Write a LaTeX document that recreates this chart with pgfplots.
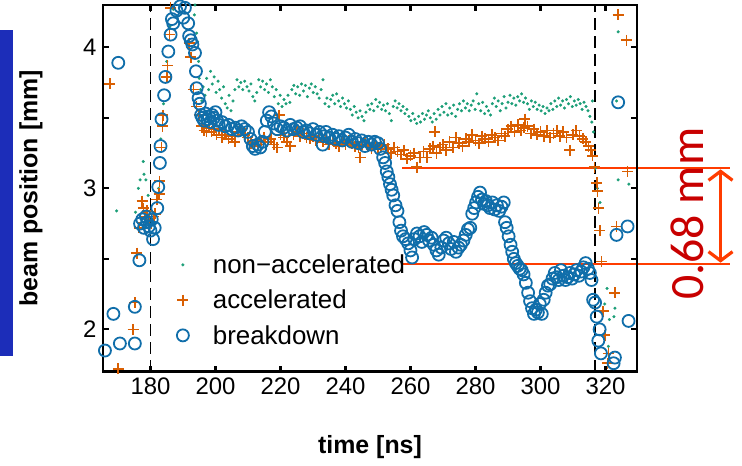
\documentclass[border=0pt]{standalone}
\usepackage{fontspec}
\setmainfont{Liberation Sans}
\newfontfamily\calibri{Carlito}
\usepackage{pgfplots}
\pgfplotsset{compat=1.18}
\usetikzlibrary{arrows.meta}
\definecolor{cgreen}{RGB}{27,158,119}
\definecolor{corange}{RGB}{217,95,2}
\definecolor{cblue}{RGB}{16,110,170}
\definecolor{annred}{RGB}{255,60,0}
\definecolor{txtred}{RGB}{200,0,0}
\definecolor{stripblue}{RGB}{28,45,185}
\pgfplotsset{
  every tick/.style={black, line width=2.2bp},
  every major tick/.style={black, line width=2.2bp},
}
\begin{document}
\begin{tikzpicture}
\useasboundingbox (0,0) rectangle (742bp,466bp);
\fill[stripblue] (0bp,110bp) rectangle (13bp,436bp);
\begin{axis}[
  at={(103bp,94.3bp)}, anchor=south west,
  width=534bp, height=366.7bp, scale only axis,
  xmin=165.4, xmax=329.7, ymin=1.70, ymax=4.30,
  clip=false,
  xtick={180,200,...,320},
  ytick={2,2.5,3,3.5,4}, yticklabels={2,,3,,4},
  tick pos=both, tick align=inside,
  major tick length=6bp,
  tick label style={font=\fontsize{24}{28}\selectfont},
  /pgf/number format/assume math mode=true,
  xticklabel style={yshift=-3bp},
  yticklabel style={xshift=-3bp},
  xlabel={\bfseries time [ns]},
  ylabel={\bfseries beam position [mm]},
  label style={font=\fontsize{25}{29}\selectfont},
  xlabel style={at={(axis description cs:0.5,0)}, anchor=center, yshift=-75bp},
  ylabel style={at={(axis description cs:0,0.5)}, anchor=center, yshift=72bp},
  legend style={draw=none, fill=none, at={(axis description cs:0.138,0.325)}, anchor=north west,
    font=\fontsize{26}{30}\selectfont, inner sep=0pt, row sep=11bp,
    nodes={inner sep=2bp},
    /tikz/every odd column/.append style={column sep=22bp}},
  legend cell align=left,
]
\addplot[cgreen, only marks, mark=*, mark size=1.4bp, line width=0.3bp] table {
169.6 2.84
175.4 2.83
176.3 3.00
176.8 3.06
177.8 3.19
178.0 3.10
178.6 3.06
179.3 2.95
180.5 2.78
181.2 2.82
182.5 3.00
183.2 3.35
184.0 3.60
185.0 3.90
186.0 4.15
187.0 4.27
193.5 4.23
193.7 4.30
194.2 4.10
194.5 4.04
194.8 3.90
195.0 3.78
195.4 3.70
195.8 3.62
196.2 3.72
196.8 3.66
197.3 3.78
197.9 3.70
198.5 3.83
199.0 3.74
199.6 3.79
200.2 3.68
200.8 3.76
201.3 3.70
201.9 3.64
202.5 3.72
203.0 3.60
203.6 3.57
204.2 3.66
204.8 3.55
205.4 3.62
206.0 3.70
206.6 3.77
207.2 3.72
207.8 3.75
208.4 3.70
209.0 3.76
209.7 3.72
210.3 3.69
210.9 3.74
211.5 3.65
212.1 3.62
212.7 3.68
213.3 3.77
213.9 3.72
214.5 3.76
215.1 3.70
215.7 3.74
216.3 3.68
216.9 3.77
217.5 3.72
218.1 3.65
218.7 3.70
219.3 3.60
219.9 3.66
220.5 3.58
221.1 3.63
221.7 3.60
222.3 3.66
222.9 3.61
223.5 3.70
224.1 3.73
224.7 3.67
225.3 3.72
225.9 3.66
226.5 3.74
227.1 3.69
227.7 3.73
228.3 3.65
228.9 3.71
229.5 3.74
230.1 3.68
230.7 3.72
231.3 3.67
231.9 3.64
232.5 3.70
233.1 3.77
233.7 3.60
234.3 3.64
234.9 3.58
235.5 3.63
236.1 3.66
236.7 3.60
237.3 3.67
237.9 3.62
238.5 3.58
239.1 3.64
239.7 3.60
240.3 3.57
240.9 3.62
241.5 3.56
242.1 3.52
242.7 3.58
243.3 3.54
243.9 3.50
244.5 3.55
245.1 3.51
245.7 3.48
246.3 3.54
246.9 3.59
247.5 3.56
248.1 3.60
248.7 3.55
249.3 3.63
249.9 3.58
250.5 3.61
251.1 3.56
251.7 3.59
252.3 3.55
252.9 3.60
253.5 3.53
254.1 3.48
254.7 3.58
255.3 3.62
255.9 3.57
256.5 3.60
257.1 3.55
257.7 3.58
258.3 3.53
258.9 3.56
259.5 3.51
260.1 3.48
260.7 3.53
261.3 3.49
261.9 3.46
262.5 3.51
263.1 3.47
263.7 3.53
264.3 3.49
264.9 3.52
265.5 3.55
266.1 3.50
266.7 3.47
267.3 3.53
267.9 3.49
268.5 3.56
269.1 3.52
269.7 3.58
270.3 3.54
270.9 3.60
271.5 3.52
272.1 3.57
272.7 3.53
273.3 3.59
273.9 3.51
274.5 3.56
275.1 3.60
275.7 3.55
276.3 3.62
276.9 3.57
277.5 3.60
278.1 3.55
278.7 3.59
279.3 3.62
279.9 3.56
280.4 3.67
281.0 3.60
281.6 3.55
282.2 3.61
282.8 3.53
283.4 3.58
284.0 3.55
284.6 3.52
285.2 3.60
285.8 3.64
286.4 3.58
287.0 3.62
287.6 3.55
288.2 3.60
288.8 3.65
289.4 3.57
290.0 3.61
290.6 3.66
291.2 3.60
291.8 3.64
292.4 3.59
293.0 3.65
293.6 3.62
294.2 3.67
294.8 3.61
295.4 3.64
296.0 3.60
296.6 3.56
297.2 3.62
297.8 3.58
298.4 3.61
299.0 3.56
299.6 3.59
300.2 3.55
300.8 3.58
301.4 3.53
302.0 3.57
302.6 3.55
303.2 3.60
303.8 3.56
304.4 3.62
305.0 3.58
305.6 3.64
306.2 3.59
306.8 3.62
307.4 3.57
308.0 3.63
308.6 3.60
309.2 3.65
309.8 3.58
310.4 3.62
311.0 3.59
311.6 3.63
312.2 3.60
312.8 3.56
313.4 3.61
314.0 3.58
314.6 3.55
315.2 3.51
315.8 3.47
316.0 3.62
316.3 3.40
316.8 3.14
317.5 3.00
318.3 2.90
319.3 1.96
319.8 2.18
320.5 2.29
320.9 1.88
321.2 2.07
322.6 2.09
322.9 2.15
323.4 3.62
323.9 3.06
323.9 4.11
327.2 3.03
};
\addlegendentry{non−accelerated}
\addplot[corange, only marks, mark=+, mark size=5.5bp, line width=1.6bp] table {
167.5 3.74
170.1 1.72
174.7 2.00
175.2 2.19
175.8 2.54
176.5 2.72
177.4 2.91
177.8 2.86
178.4 2.80
179.0 2.84
179.6 2.78
180.3 2.75
181.0 2.80
181.4 2.82
182.0 2.92
182.7 2.96
182.8 3.05
183.4 3.29
183.7 3.44
183.8 3.52
185.0 3.79
185.3 3.87
185.8 4.09
186.2 4.28
191.9 4.03
192.4 3.93
193.2 3.70
194.2 3.58
195.0 3.52
195.8 3.44
196.5 3.41
197.2 3.40
198.0 3.43
198.8 3.40
199.5 3.42
200.3 3.38
201.0 3.41
202.0 3.36
203.0 3.38
204.0 3.35
205.0 3.37
206.0 3.33
207.0 3.40
208.0 3.42
209.0 3.38
210.0 3.36
211.0 3.32
212.0 3.30
213.0 3.31
214.0 3.34
215.0 3.36
216.0 3.33
217.0 3.35
218.0 3.31
219.0 3.29
219.6 3.52
220.0 3.38
221.0 3.36
222.0 3.33
223.0 3.30
224.0 3.38
225.0 3.40
226.0 3.37
227.0 3.39
228.0 3.36
229.0 3.35
230.0 3.37
231.0 3.34
232.0 3.36
233.0 3.33
234.0 3.35
235.0 3.31
236.0 3.34
237.0 3.32
238.0 3.30
239.0 3.33
240.0 3.31
241.0 3.34
242.0 3.32
243.0 3.30
244.0 3.29
244.5 3.22
245.0 3.31
246.0 3.33
247.0 3.30
248.0 3.28
249.0 3.31
250.0 3.29
251.0 3.30
252.0 3.31
253.0 3.28
254.0 3.25
255.0 3.29
256.0 3.26
257.0 3.24
258.0 3.27
259.0 3.21
260.0 3.23
261.0 3.25
262.0 3.15
263.0 3.22
264.0 3.26
265.0 3.22
266.0 3.28
267.0 3.30
267.5 3.40
268.0 3.25
269.0 3.29
270.0 3.31
271.0 3.27
272.0 3.33
273.0 3.29
274.0 3.36
275.0 3.32
276.0 3.30
277.0 3.35
278.0 3.33
279.0 3.38
280.0 3.34
281.0 3.32
282.0 3.37
283.0 3.35
284.0 3.33
285.0 3.38
286.0 3.36
287.0 3.34
288.0 3.39
289.0 3.37
290.0 3.42
291.0 3.44
292.0 3.40
293.0 3.45
294.0 3.41
295.0 3.43
295.2 3.49
296.0 3.44
297.0 3.39
298.0 3.42
299.0 3.38
300.0 3.40
301.0 3.37
302.0 3.41
303.0 3.36
304.0 3.39
305.0 3.41
306.0 3.37
307.0 3.40
308.0 3.36
309.0 3.27
310.0 3.38
311.0 3.41
312.0 3.37
313.0 3.35
314.0 3.33
314.8 3.30
315.5 3.27
316.0 3.23
316.6 3.15
317.3 3.04
317.6 2.98
317.8 2.86
318.3 2.70
318.8 2.48
319.3 2.13
319.8 1.96
320.6 1.76
320.9 1.83
322.9 2.26
323.4 2.73
323.9 4.23
326.5 4.05
326.8 3.12
};
\addlegendentry{accelerated}
\addplot[cblue, only marks, mark=o, mark size=6bp, line width=1.8bp] table {
166.0 1.85
168.6 2.11
170.1 3.89
170.6 1.90
175.2 1.90
175.2 2.16
176.6 2.49
176.8 2.75
177.5 2.78
178.0 2.72
178.6 2.80
179.0 2.76
179.5 2.73
180.0 2.70
180.4 2.78
180.8 2.64
181.3 2.72
182.1 2.86
182.4 3.01
182.9 3.18
183.1 3.30
183.4 3.49
184.2 3.66
184.6 3.79
185.5 3.97
186.2 4.09
186.6 4.20
187.0 4.17
188.0 4.26
189.1 4.29
190.1 4.21
190.6 4.28
191.6 4.17
191.9 4.08
192.4 4.05
192.9 4.02
193.7 3.96
194.0 3.83
194.2 3.71
194.8 3.64
195.2 3.60
195.6 3.52
196.0 3.50
196.5 3.48
197.0 3.53
197.5 3.49
198.0 3.51
198.5 3.47
199.0 3.52
199.5 3.50
200.0 3.54
200.5 3.48
201.0 3.45
202.0 3.47
203.0 3.44
204.0 3.45
205.0 3.42
206.0 3.43
207.0 3.41
208.0 3.44
209.0 3.42
210.0 3.40
210.8 3.35
211.5 3.30
212.2 3.28
213.0 3.31
213.8 3.29
214.5 3.33
215.2 3.40
215.8 3.48
216.5 3.54
217.2 3.51
218.0 3.46
219.0 3.42
220.0 3.44
221.0 3.43
222.0 3.41
223.0 3.45
224.0 3.42
225.0 3.43
226.0 3.44
227.0 3.40
228.0 3.41
229.0 3.39
230.0 3.42
231.0 3.38
232.0 3.40
233.0 3.31
233.5 3.37
234.0 3.40
235.0 3.36
236.0 3.38
237.0 3.35
238.0 3.37
239.0 3.34
240.0 3.36
241.0 3.38
242.0 3.33
243.0 3.35
244.0 3.32
245.0 3.34
246.0 3.30
247.0 3.33
248.0 3.31
249.0 3.33
250.0 3.32
250.7 3.28
251.6 3.22
252.2 3.18
252.7 3.12
253.2 3.08
253.7 3.03
254.2 2.99
254.7 2.95
255.4 2.88
256.0 2.84
256.6 2.76
257.1 2.70
257.7 2.66
258.5 2.64
259.3 2.61
260.0 2.56
260.5 2.51
261.2 2.64
262.0 2.68
262.8 2.66
263.5 2.62
264.2 2.69
265.0 2.67
265.7 2.63
266.5 2.65
267.2 2.60
268.0 2.56
268.7 2.53
269.5 2.58
270.2 2.63
271.0 2.65
271.8 2.61
272.5 2.57
273.3 2.62
274.0 2.55
274.8 2.58
275.5 2.60
276.3 2.63
277.0 2.67
277.7 2.71
278.4 2.72
279.0 2.82
279.6 2.86
280.2 2.90
280.8 2.94
281.4 2.97
282.0 2.92
282.6 2.89
283.2 2.91
283.8 2.88
284.5 2.86
285.2 2.90
285.9 2.85
286.6 2.88
287.3 2.84
288.0 2.87
288.7 2.90
289.1 2.76
289.6 2.72
290.2 2.66
290.8 2.60
291.3 2.55
291.8 2.50
292.4 2.47
293.0 2.45
293.6 2.43
294.2 2.42
294.8 2.39
295.5 2.33
296.2 2.26
296.8 2.20
297.4 2.15
298.0 2.11
298.6 2.14
299.2 2.12
299.8 2.18
300.4 2.11
301.0 2.21
301.6 2.26
302.3 2.31
303.0 2.32
303.7 2.36
304.4 2.40
305.0 2.37
305.6 2.35
306.3 2.42
307.0 2.38
307.7 2.35
308.4 2.37
309.0 2.40
309.7 2.36
310.4 2.39
311.1 2.42
311.8 2.38
312.5 2.41
313.2 2.44
313.9 2.47
314.6 2.43
315.2 2.40
315.7 2.35
316.2 2.21
316.8 2.19
317.3 2.09
317.8 1.92
318.2 2.00
318.6 1.83
322.5 1.76
322.9 1.80
323.4 2.67
323.9 3.61
326.8 2.73
327.1 2.06
};
\addlegendentry{breakdown}
\addplot[black, dash pattern=on 12bp off 6bp, line width=1.5bp, forget plot] coordinates {(180,1.70) (180,4.30)};
\addplot[black, dash pattern=on 12bp off 6bp, line width=1.5bp, forget plot] coordinates {(316.8,1.70) (316.8,4.30)};
\addplot[annred, line width=2bp, forget plot] coordinates {(257.4,3.147) (358.2,3.147)};
\addplot[annred, line width=2bp, forget plot] coordinates {(257.4,2.461) (358.2,2.461)};
\addplot[annred, line width=3.2bp, {Straight Barb[length=9bp,width=24bp]}-{Straight Barb[length=9bp,width=24bp]}, forget plot] coordinates {(355.4,3.135) (355.4,2.473)};
\draw[black, line width=2.8bp] (rel axis cs:0,0) rectangle (rel axis cs:1,1);
\end{axis}
\node[rotate=90, anchor=base west, text=txtred, font=\calibri\fontsize{48}{56}\selectfont, inner sep=0pt] at (703bp,166bp) {0.68 mm};
\end{tikzpicture}
\end{document}
